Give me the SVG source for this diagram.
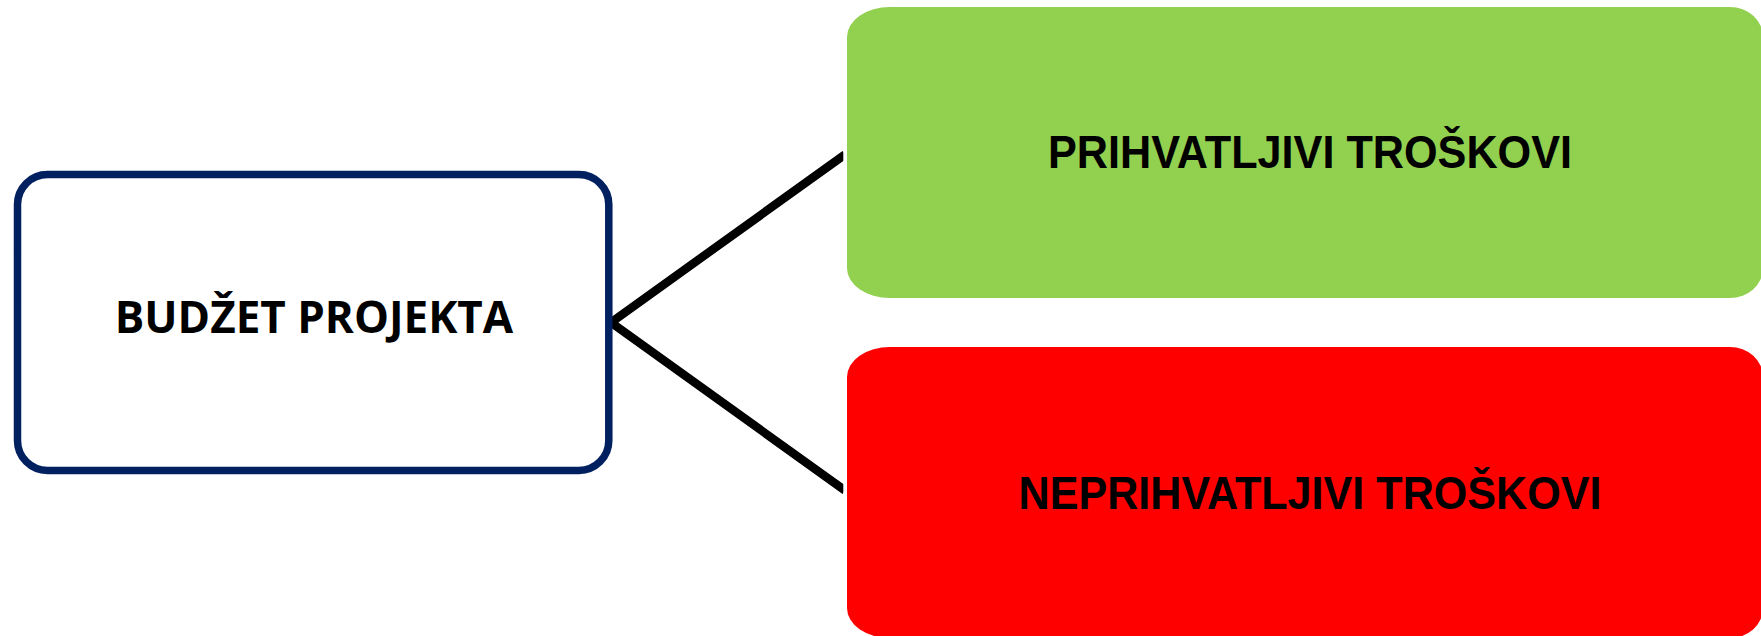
<svg xmlns="http://www.w3.org/2000/svg" width="1761" height="636" viewBox="0 0 1761 636">
  <style>
    .label { font-weight: bold; fill: #000000; text-anchor: middle; }
    .sans-open { font-family: "Open Sans", "Noto Sans", "DejaVu Sans", sans-serif; }
    .sans-grot { font-family: "Liberation Sans", Arial, sans-serif; }
    .link { fill: none; stroke: #000000; stroke-width: 8.5; stroke-linejoin: miter; stroke-miterlimit: 10; }
  </style>
  <defs>
    <clipPath id="linkClip">
      <rect x="0" y="0" width="843.3" height="636"/>
    </clipPath>
  </defs>

  <rect width="1761" height="636" fill="#ffffff"/>

  <!-- connectors from the budget node to both cost categories -->
  <g id="connectors" clip-path="url(#linkClip)">
    <polyline class="link" points="845,154.5 611,322.5 845,490.5"/>
  </g>

  <!-- project budget -->
  <g id="node-budzet">
    <rect x="17.5" y="174.5" width="591.3" height="296" rx="30" ry="30" fill="#ffffff" stroke="#002060" stroke-width="7.5"/>
    <text class="label sans-open" x="314" y="333" font-size="44">BUDŽET PROJEKTA</text>
  </g>

  <!-- eligible costs -->
  <g id="node-prihvatljivi">
    <path d="M890,7 H1730 A33,30 0 0 1 1763,37 V268 A33,30 0 0 1 1730,298 H890 A43,30 0 0 1 847,268 V37 A43,30 0 0 1 890,7 Z" fill="#92D050"/>
    <text class="label sans-grot" x="1310" y="167.5" font-size="46" textLength="524" lengthAdjust="spacingAndGlyphs">PRIHVATLJIVI TROŠKOVI</text>
  </g>

  <!-- ineligible costs -->
  <g id="node-neprihvatljivi">
    <path d="M890,347 H1730 A33,30 0 0 1 1763,377 V608 A33,30 0 0 1 1730,638 H890 A43,30 0 0 1 847,608 V377 A43,30 0 0 1 890,347 Z" fill="#FF0000"/>
    <text class="label sans-grot" x="1310" y="509" font-size="46" textLength="583" lengthAdjust="spacingAndGlyphs">NEPRIHVATLJIVI TROŠKOVI</text>
  </g>
</svg>
